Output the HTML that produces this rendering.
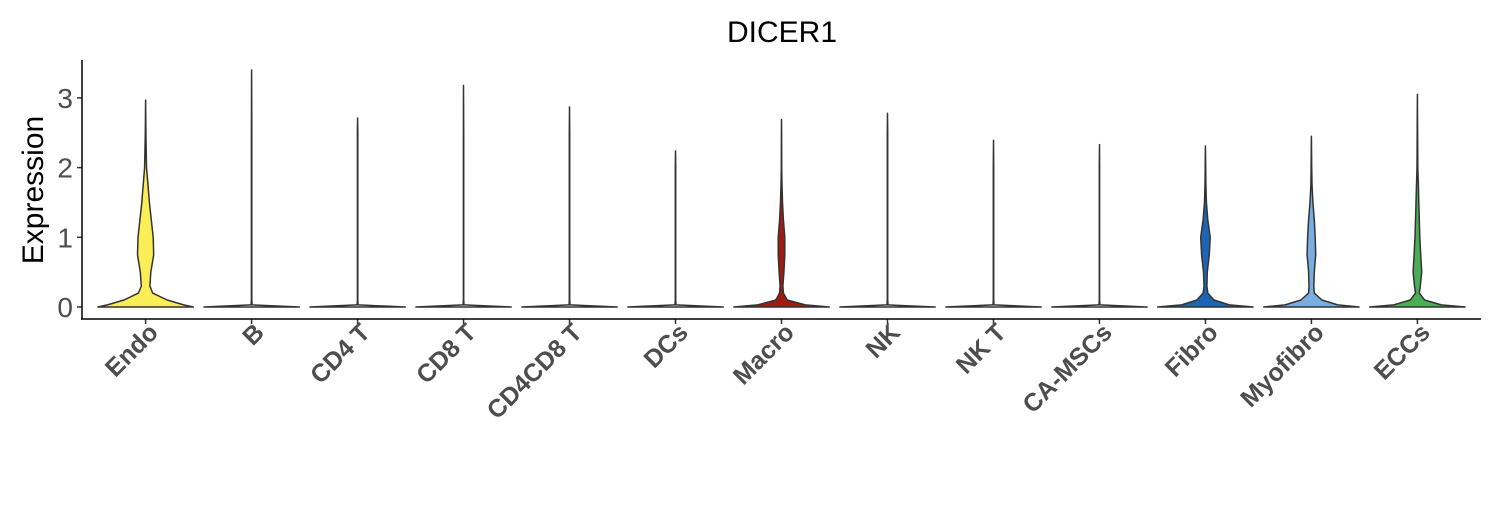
<!DOCTYPE html>
<html><head><meta charset="utf-8"><style>
body{margin:0;background:#fff}
svg{font-family:"Liberation Sans",Arial,sans-serif}
</style></head><body>
<svg id="chart" width="1500" height="500">
<text x="782" y="42" font-size="30" text-anchor="middle" fill="#000">DICER1</text>
<text transform="translate(43,190) rotate(-90)" font-size="30" text-anchor="middle" fill="#000">Expression</text>
<g id="marks"></g>
<line x1="82" y1="60" x2="82" y2="319" stroke="#000" stroke-width="1.5"/>
<line x1="81" y1="319" x2="1481" y2="319" stroke="#000" stroke-width="1.5"/>
</svg>
<script>
const categories=["Endo","B","CD4 T","CD8 T","CD4CD8 T","DCs","Macro","NK","NK T","CA-MSCs","Fibro","Myofibro","ECCs"];
const maxValues=[2.97,3.4,2.71,3.18,2.87,2.24,2.69,2.78,2.39,2.33,2.31,2.45,3.05];
const fillColors=["#F9EE56","#fff","#fff","#fff","#fff","#fff","#9E1A12","#fff","#fff","#fff","#1E64B4","#7BAEE0","#4AAE56"];
const grid=[0,0.03,0.1,0.2,0.3,0.5,0.75,1,1.25,1.5,1.75,2,2.5];
const wEndo=[1,0.8,0.45,0.15,0.09,0.11,0.17,0.16,0.12,0.08,0.05,0.02,0.006];
const wEmpty=[1,0.01,0.004,0.004,0.004,0.004,0.004,0.004,0.004,0.004,0.004,0.004,0.004];
const wMacro=[1,0.5,0.12,0.04,0.03,0.05,0.07,0.07,0.04,0.02,0.01,0.005,0.003];
const wFibro=[1,0.5,0.18,0.05,0.03,0.04,0.08,0.1,0.05,0.02,0.01,0.005,0.003];
const wMyo=[1,0.55,0.22,0.06,0.05,0.06,0.09,0.08,0.06,0.03,0.012,0.006,0.003];
const wEccs=[1,0.5,0.15,0.04,0.06,0.09,0.07,0.05,0.04,0.03,0.02,0.008,0.004];
const widths=[wEndo,wEmpty,wEmpty,wEmpty,wEmpty,wEmpty,wMacro,wEmpty,wEmpty,wEmpty,wFibro,wMyo,wEccs];
const yTicks=[0,1,2,3];

const X0=82,X1=1481,n=categories.length,step=(X1-X0)/(n-1+1.2);
const xs=i=>X0+(0.6+i)*step;
const ys=v=>307-v*69.7;
const HALF=step*0.45;
const NS="http://www.w3.org/2000/svg";
const svg=document.getElementById('chart'),marks=document.getElementById('marks');
function mk(t,a,p){const e=document.createElementNS(NS,t);for(const k in a)e.setAttribute(k,a[k]);(p||marks).appendChild(e);return e;}

yTicks.forEach(v=>{
  const l=mk('line',{x1:77,x2:82,y1:ys(v),y2:ys(v),stroke:'#333','stroke-width':1.5});
  
  
  const t=mk('text',{x:73,y:ys(v)+10,'font-size':28,'text-anchor':'end',fill:'#4d4d4d'});
  t.textContent=v;
  
  
});

categories.forEach((c,i)=>{
  const cx=xs(i),mx=maxValues[i],w=widths[i];
  const pts=[];
  for(let k=0;k<grid.length;k++){if(grid[k]<mx)pts.push([grid[k],w[k]]);}
  pts.push([mx,0]);
  const right=pts.map(p=>[cx+p[1]*HALF,ys(p[0])]);
  const left=pts.slice().reverse().map(p=>[cx-p[1]*HALF,ys(p[0])]);
  const all=right.concat(left);
  const poly=mk('polygon',{points:all.map(p=>p[0].toFixed(1)+','+p[1].toFixed(1)).join(' '),fill:fillColors[i],stroke:'#333','stroke-width':1.5,'stroke-linejoin':'round'});
  
  
  const tk=mk('line',{x1:cx,x2:cx,y1:319,y2:324,stroke:'#333','stroke-width':1.5});
  
  
  const t=mk('text',{transform:`translate(${cx+14},${334}) rotate(-45)`,'font-size':25,'font-weight':'bold','text-anchor':'end',fill:'#4d4d4d'});
  t.textContent=c;
  
  
});
</script>
</body></html>
